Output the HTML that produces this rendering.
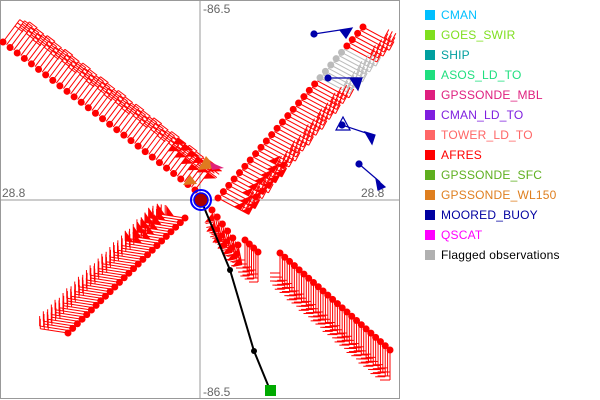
<!DOCTYPE html>
<html><head><meta charset="utf-8"><style>
body{margin:0;background:#fff;width:600px;height:400px;overflow:hidden}
svg{position:absolute;left:0;top:0}
.lg{position:absolute;left:425px;top:8px;font:12px "Liberation Sans",sans-serif;letter-spacing:0.2px}
.lg div{height:20px;line-height:14px;position:relative;padding-left:16px}
.lg span{position:absolute;left:0;top:2px;width:10px;height:10px}
</style></head><body>
<svg id="s" width="600" height="400" xmlns="http://www.w3.org/2000/svg">
<rect x="0.5" y="0.5" width="399" height="398" fill="none" stroke="#999"/>
<line x1="200" y1="0" x2="200" y2="399" stroke="#999"/>
<line x1="0" y1="200" x2="400" y2="200" stroke="#999"/>
<g font-family="Liberation Sans,sans-serif" font-size="12" fill="#666">
<text x="203" y="13">-86.5</text><text x="203" y="396">-86.5</text>
<text x="2" y="197">28.8</text><text x="361" y="197">28.8</text></g>
<g id="b" stroke="#f00" stroke-width="1" fill="#f00"></g>
<g stroke="#00a" fill="#00a" stroke-width="1.2">
<polyline points="314,34 340,30 347,35" fill="none"/><circle cx="314" cy="34" r="3"/><polygon points="340,30 352,28 346,38"/>
<polyline points="328,78 360,78" fill="none"/><circle cx="328" cy="78" r="3"/><polygon points="350,78 362,78 358,90"/>
<polyline points="342,125 372,135" fill="none"/><circle cx="342" cy="125" r="3"/><polygon points="365,132 375,135 372,144"/>
<polygon points="343,117 336,130 350,130" fill="none"/>
<polyline points="359,164 380,182" fill="none"/><circle cx="359" cy="164" r="3"/><polygon points="376,179 385,187 378,190"/>
</g>
<polyline points="201,200 230,270 254,351 270,390" fill="none" stroke="#000" stroke-width="2"/>
<circle cx="230" cy="270" r="3"/><circle cx="254" cy="351" r="3"/>
<rect x="265" y="385" width="11" height="11" fill="#0a0"/>
<polygon points="206,156 198,170 216,168" fill="#e07a20"/><polygon points="210,162 224,168 212,170" fill="#e0207a"/>
<polygon points="190,175 183,185 197,184" fill="#e07a20"/>
<circle cx="201" cy="200" r="10" fill="none" stroke="#00f" stroke-width="2"/>
<circle cx="201" cy="200" r="7" fill="#a00" stroke="#00f" stroke-width="1.5"/>
</svg>
<div class="lg">
<div style="color:#00bfff"><span style="background:#00bfff"></span>CMAN</div>
<div style="color:#7fdf1f"><span style="background:#7fdf1f"></span>GOES_SWIR</div>
<div style="color:#009f9f"><span style="background:#009f9f"></span>SHIP</div>
<div style="color:#1fdf7f"><span style="background:#1fdf7f"></span>ASOS_LD_TO</div>
<div style="color:#df1f7f"><span style="background:#df1f7f"></span>GPSSONDE_MBL</div>
<div style="color:#7f1fdf"><span style="background:#7f1fdf"></span>CMAN_LD_TO</div>
<div style="color:#ff6666"><span style="background:#ff6666"></span>TOWER_LD_TO</div>
<div style="color:#f00"><span style="background:#f00"></span>AFRES</div>
<div style="color:#5faf1f"><span style="background:#5faf1f"></span>GPSSONDE_SFC</div>
<div style="color:#df7f1f"><span style="background:#df7f1f"></span>GPSSONDE_WL150</div>
<div style="color:#0000a0"><span style="background:#0000a0"></span>MOORED_BUOY</div>
<div style="color:#f0f"><span style="background:#f0f"></span>QSCAT</div>
<div style="color:#000"><span style="background:#b0b0b0"></span>Flagged observations</div>
</div>
<script>
var g=document.getElementById('b'),h='';
function leg(x0,y0,x1,y1,n,dx,dy,L,tx,ty,T,f0,f1,gray){
 var m=n*2-1;
 for(var i=0;i<m;i++){var t=i/(m-1),x=x0+(x1-x0)*t,y=y0+(y1-y0)*t;
  var c=(gray&&t>gray[0]&&t<gray[1])?'#bbb':'#f00';
  var LL=L+((i*7)%5)-2;
  var ex=x+dx*LL,ey=y+dy*LL;
  h+='<line x1="'+x+'" y1="'+y+'" x2="'+ex+'" y2="'+ey+'" stroke="'+c+'"/>';
  for(var k=0;k<3;k++){var bx=ex-dx*k*4,by=ey-dy*k*4;
   h+='<line x1="'+bx+'" y1="'+by+'" x2="'+(bx+tx*T)+'" y2="'+(by+ty*T)+'" stroke="'+c+'"/>';}
  if(i%2==0&&t>=f0&&t<=f1){for(var k=0;k<2;k++){var fx=ex-dx*k*9,fy=ey-dy*k*9;
   h+='<polygon points="'+fx+','+fy+' '+(fx-dx*8)+','+(fy-dy*8)+' '+(fx+tx*10)+','+(fy+ty*10)+'" fill="'+c+'" stroke="none"/>';}}
  if(i%2==0)h+='<circle cx="'+x+'" cy="'+y+'" r="3.5" fill="'+c+'" stroke="none"/>';}
}
leg(3,42,195,190,28,0.6,-0.8,30,0.8,0.6,10,0.8,1.1);
leg(363,27,218,198,28,0.88,0.47,34,0.47,-0.88,10,0.72,1.1,[0.12,0.3]);
leg(185,218,68,333,26,-0.99,-0.15,30,0,-1,10,-1,0.25);
leg(245,240,258,252,4,0,1,30,-1,0,9,-1,-1);
leg(280,253,390,350,24,0,1,30,-1,0,10,-1,-1);
leg(212,210,238,245,6,0.2,0.98,22,-0.98,0.2,9,-1,1.1);
g.innerHTML=h;
</script>
</body></html>
